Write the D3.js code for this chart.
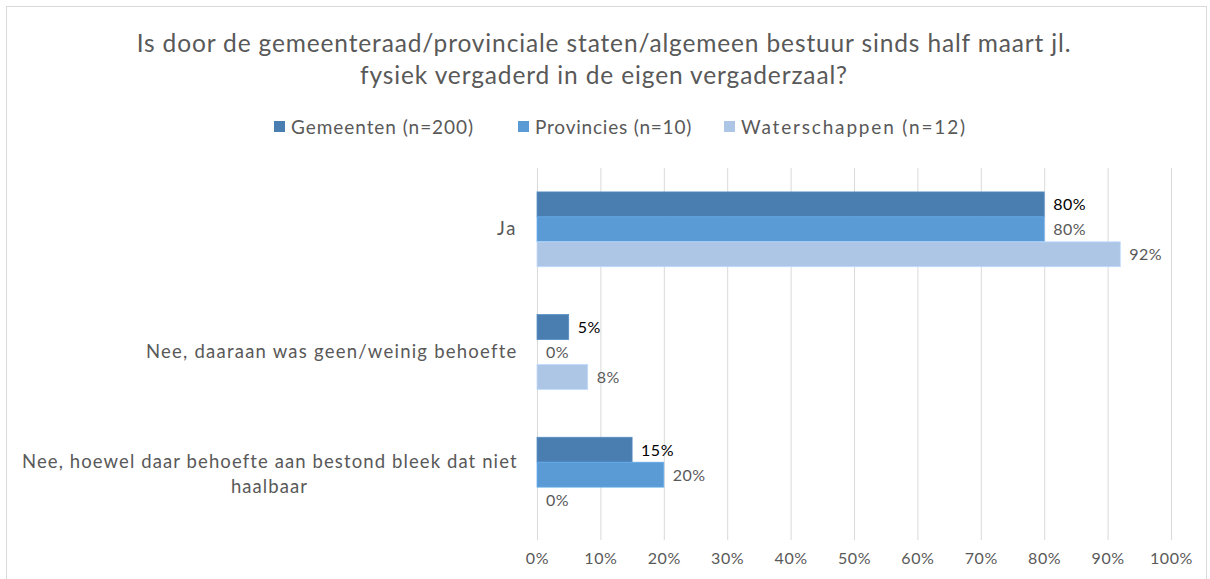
<!DOCTYPE html>
<html>
<head>
<meta charset="utf-8">
<script src="https://cdn.jsdelivr.net/npm/d3@7"></script>
<style>
  body { margin: 0; background: #fff; }
  text { font-family: Lato, "Open Sans", sans-serif; }
</style>
</head>
<body>
<svg class="chart-svg"></svg>
<script>
var categories = ['Ja', 'Nee, daaraan was geen/weinig behoefte', 'Nee, hoewel daar behoefte aan bestond bleek dat niet|haalbaar'];
var series_names = ['Gemeenten (n=200)', 'Provincies (n=10)', 'Waterschappen (n=12)'];
var gemeenten = [80, 5, 15];
var provincies = [80, 0, 20];
var waterschappen = [92, 8, 0];
var x_ticks = [0, 10, 20, 30, 40, 50, 60, 70, 80, 90, 100];
var title_lines = ['Is door de gemeenteraad/provinciale staten/algemeen bestuur sinds half maart jl.', 'fysiek vergaderd in de eigen vergaderzaal?'];

var colors = ['#4a7eb0', '#5b9bd5', '#adc6e6'];
var label_colors = ['#000000', '#595959', '#595959'];
var all_series = [gemeenten, provincies, waterschappen];

var width = 1210, height = 579;
var svg = d3.select('.chart-svg').attr('width', width).attr('height', height);

// stretch text to the width it has in the original (Calibri is not available)
function fit(sel, target) {
  var n = sel.text().length;
  var w = sel.node().getComputedTextLength();
  sel.attr('letter-spacing', ((target - w) / n).toFixed(2));
}

// chart border
svg.append('rect')
  .attr('x', 6.5).attr('y', 6.5)
  .attr('width', 1200).attr('height', 600)
  .attr('fill', 'none').attr('stroke', '#d9d9d9');

// title
var title_widths = [935, 488];
svg.selectAll('.title')
  .data(title_lines)
  .enter().append('text')
  .attr('class', 'title')
  .attr('x', 604)
  .attr('y', function(d, i) { return 52 + i * 32; })
  .attr('text-anchor', 'middle')
  .attr('font-size', 24.5)
  .attr('fill', '#595959')
  .text(function(d) { return d; })
  .each(function(d, i) { fit(d3.select(this), title_widths[i]); });

// legend
var legend_x = [274, 518, 724];
var legend_w = [183, 157, 226];
var legend = svg.selectAll('.legend')
  .data(series_names)
  .enter().append('g')
  .attr('class', 'legend')
  .attr('transform', function(d, i) { return 'translate(' + legend_x[i] + ',0)'; });
legend.append('rect')
  .attr('x', 0).attr('y', 121)
  .attr('width', 11).attr('height', 11)
  .attr('fill', function(d, i) { return colors[i]; });
legend.append('text')
  .attr('x', 17).attr('y', 134)
  .attr('font-size', 19)
  .attr('fill', '#595959')
  .text(function(d) { return d; })
  .each(function(d, i) { fit(d3.select(this), legend_w[i]); });

// scales
var plot_left = 537, plot_right = 1171, plot_top = 168, plot_bottom = 540;
var x = d3.scaleLinear().domain([0, 100]).range([plot_left, plot_right]);
var y = d3.scaleBand().domain(d3.range(categories.length)).range([plot_top, 536]).paddingInner(0.39).paddingOuter(0.195);
var y_inner = d3.scaleBand().domain(d3.range(all_series.length)).range([0, y.bandwidth()]);

// gridlines
svg.append('g')
  .attr('transform', 'translate(0,' + plot_bottom + ')')
  .call(d3.axisBottom(x).tickValues(x_ticks).tickSize(plot_bottom - plot_top).tickFormat(function(d) { return d + '%'; }))
  .call(function(g) {
    g.select('.domain').remove();
    g.selectAll('.tick line')
      .attr('y2', -(plot_bottom - plot_top))
      .attr('stroke', '#d9d9d9').attr('stroke-width', 1);
    g.selectAll('.tick text')
      .attr('y', 24).attr('dy', 0)
      .attr('font-size', 16)
      .attr('font-family', 'Lato, sans-serif')
      .attr('letter-spacing', 0.6)
      .attr('fill', '#595959');
  });

// bars
var groups = svg.selectAll('.series')
  .data(all_series)
  .enter().append('g')
  .attr('class', 'series');

groups.each(function(vals, si) {
  var g = d3.select(this);
  g.selectAll('rect')
    .data(vals)
    .enter().append('rect')
    .attr('x', x(0))
    .attr('y', function(d, ci) { return y(ci) + y_inner(si); })
    .attr('width', function(d) { return x(d) - x(0); })
    .attr('height', y_inner.bandwidth())
    .attr('fill', colors[si])
    .attr('stroke', d3.color(colors[si]).brighter(0.3))
    .attr('stroke-width', 0.75);
  g.selectAll('text')
    .data(vals)
    .enter().append('text')
    .attr('x', function(d) { return x(d) + 9; })
    .attr('y', function(d, ci) { return y(ci) + y_inner(si) + y_inner.bandwidth() / 2 + 6; })
    .attr('font-size', 16)
    .attr('letter-spacing', 0.5)
    .attr('fill', label_colors[si])
    .text(function(d) { return d + '%'; });
});

// category labels
var cat_widths = [[20], [371], [495, 77]];
svg.selectAll('.cat')
  .data(categories)
  .enter().append('text')
  .attr('class', 'cat')
  .attr('font-size', 18.5)
  .attr('fill', '#595959')
  .each(function(d, ci) {
    var lines = d.split('|');
    var t = d3.select(this);
    var cy = y(ci) + y.bandwidth() / 2;
    var lh = 25;
    var y0 = cy - (lines.length - 1) * lh / 2 + 6;
    lines.forEach(function(line, li) {
      var ts = t.append('tspan').attr('y', y0 + li * lh).text(line);
      fit(ts, cat_widths[ci][li]);
    });
    var widths = cat_widths[ci];
    var block = d3.max(widths);
    t.selectAll('tspan')
      .attr('x', function(dd, li) { return 517 - block + (block - widths[li]) / 2; });
  });
</script>
</body>
</html>
